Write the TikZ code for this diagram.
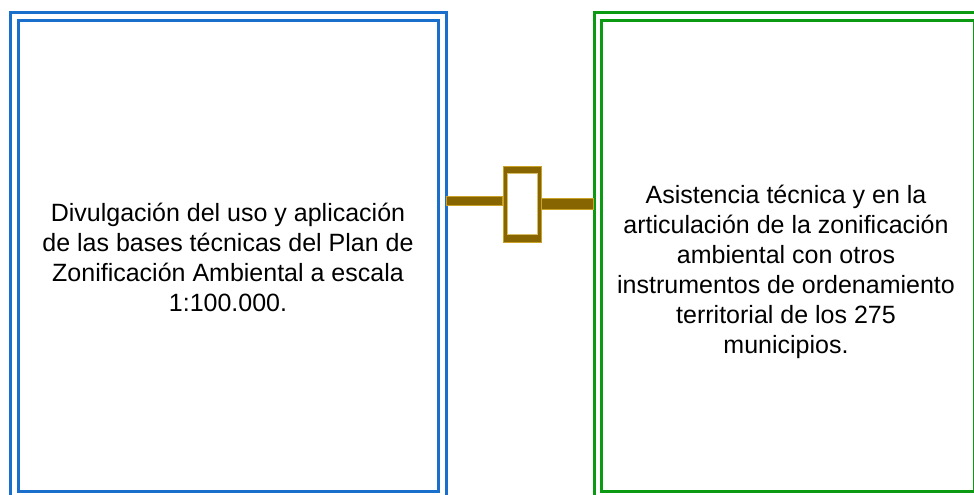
\documentclass[tikz,border=0pt]{standalone}
\usepackage{fontspec}
\setmainfont{Liberation Sans}
\definecolor{bblue}{HTML}{1A6FCC}
\definecolor{ggreen}{HTML}{0C9A12}
\definecolor{gold}{HTML}{876500}
\definecolor{goldl}{HTML}{C9A227}
\begin{document}
\begin{tikzpicture}[x=1pt,y=-1pt,
  outerbox/.style={draw, line width=3.4pt, inner sep=0pt, anchor=north west},
  txt/.style={align=center, font=\fontsize{25}{30}\selectfont},
  bar/.style={draw=goldl, line width=0.6pt, fill=gold}]
\useasboundingbox (0,0) rectangle (974,495);
\clip (0,0) rectangle (974,495);
% blue box
\node[outerbox, draw=bblue, minimum width=436, minimum height=500] (Lo) at (9,11) {};
\node[outerbox, draw=bblue, minimum width=420, minimum height=471] (Li) at (17,19) {};
\node[txt] (Lt) at (228,257) {Divulgación del uso y aplicación\\de las bases técnicas del Plan de\\Zonificación Ambiental a escala\\1:100.000.};
% green box
\node[outerbox, draw=ggreen, minimum width=400, minimum height=500] (Ro) at (593,11) {};
\node[outerbox, draw=ggreen, minimum width=373, minimum height=471] (Ri) at (600,19) {};
\node[txt] (Rt) at (786,272) {Asistencia técnica y en la\\articulación de la zonificación\\ambiental con otros\\instrumentos de ordenamiento\\territorial de los 275\\municipios.};
% connector
\node[draw=goldl, line width=0.8pt, fill=gold, minimum width=38, minimum height=76, inner sep=0pt] (K) at (522,204) {};
\fill[white, draw=goldl!70, line width=0.6pt] ([shift={(5,8)}]K.north west) rectangle ([shift={(-4,-8)}]K.south east);
\coordinate (a1) at (446,196);
\coordinate (b2) at (593,209);
\fill[bar] (a1) rectangle (K.west |- 0,205);
\fill[bar] (K.east |- 0,198) rectangle (b2);
\end{tikzpicture}
\end{document}
